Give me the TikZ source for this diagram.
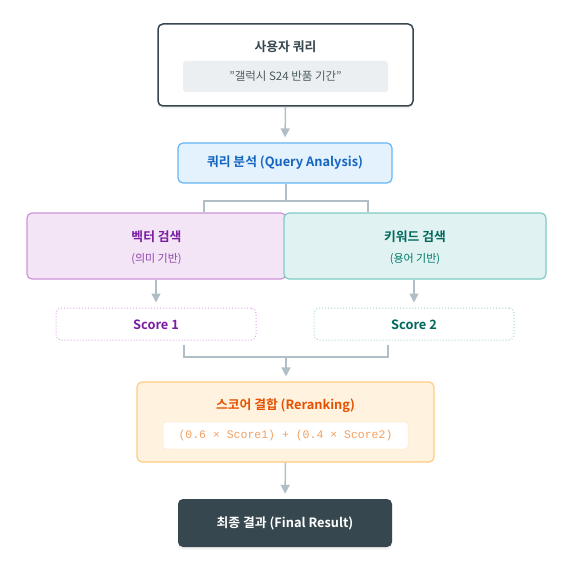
\documentclass[tikz,border=0pt]{standalone}
\usepackage{fontspec}
\setmainfont{Noto Sans CJK KR}[BoldFont={Noto Sans CJK KR Bold}]
\newfontfamily\formulafont{Liberation Mono}
\usetikzlibrary{arrows.meta,shadows}
\definecolor{slate}{HTML}{37474F}
\definecolor{connc}{HTML}{B0BEC5}
\definecolor{greyfill}{HTML}{ECEFF1}
\definecolor{qfill}{HTML}{E3F2FD}
\definecolor{qborder}{HTML}{64B5F6}
\definecolor{qtext}{HTML}{1565C0}
\definecolor{vfill}{HTML}{F3E5F5}
\definecolor{vborder}{HTML}{CE93D8}
\definecolor{vtext}{HTML}{7B1FA2}
\definecolor{vsub}{HTML}{8E44AD}
\definecolor{vdash}{HTML}{DDA8E6}
\definecolor{kfill}{HTML}{E0F2F1}
\definecolor{kborder}{HTML}{80CBC4}
\definecolor{ktext}{HTML}{00695C}
\definecolor{ksub}{HTML}{00796B}
\definecolor{kdash}{HTML}{A3D8D2}
\definecolor{rfill}{HTML}{FFF3E0}
\definecolor{rborder}{HTML}{FFCC80}
\definecolor{rtext}{HTML}{E65100}
\definecolor{rinner}{HTML}{FFE8CC}
\definecolor{ftext}{HTML}{F2A061}
\tikzset{
  box/.style={rectangle, rounded corners=5pt, inner sep=0pt},
  softshadow/.style={drop shadow={opacity=0.12, shadow xshift=0pt, shadow yshift=-2.5pt}},
  conn/.style={draw=connc, line width=1.5pt},
  arr/.style={conn, -{Triangle[length=9pt,width=9pt]}, shorten >=5pt},
  title/.style={font=\bfseries\fontsize{12.8}{15}\selectfont},
  sub/.style={font=\fontsize{11}{13}\selectfont},
}
\begin{document}
\begin{tikzpicture}[x=1pt,y=-1pt]
\useasboundingbox (0,0) rectangle (568,572);
% user query
\node[box, draw=slate, line width=1.5pt, fill=white, softshadow, minimum width=255pt, minimum height=82pt] (user) at (285.5,65) {};
\node[title, text=slate] (usert) at (285.5,47) {사용자 쿼리};
\node[box, rounded corners=3pt, fill=greyfill, minimum width=205pt, minimum height=31pt] (userq) at (285.5,76.5) {};
\node[font=\fontsize{11.5}{14}\selectfont, text=slate!90] (userqt) at (285.5,76.5) {\symbol{34}갤럭시 S24 반품 기간\symbol{34}};
% query analysis
\node[box, draw=qborder, line width=1.2pt, fill=qfill, minimum width=214pt, minimum height=40pt] (qa) at (285,163) {};
\node[title, text=qtext] (qat) at (285,163) {쿼리 분석 (Query Analysis)};
% vector
\node[box, draw=vborder, line width=1.2pt, fill=vfill, minimum width=259pt, minimum height=66pt] (vec) at (156.5,246) {};
\node[title, text=vtext] (vect) at (156.5,237) {벡터 검색};
\node[sub, text=vsub] (vecs) at (156.5,259) {(의미 기반)};
% keyword
\node[box, draw=kborder, line width=1.2pt, fill=kfill, minimum width=262pt, minimum height=66pt] (kw) at (415,246) {};
\node[title, text=ktext] (kwt) at (415,237) {키워드 검색};
\node[sub, text=ksub] (kws) at (415,259) {(용어 기반)};
% scores
\node[box, draw=vdash, dotted, line width=1pt, fill=white, minimum width=200pt, minimum height=32pt] (s1) at (156,324) {};
\node[title, text=vtext] (s1t) at (156,324.5) {Score 1};
\node[box, draw=kdash, dotted, line width=1pt, fill=white, minimum width=200pt, minimum height=32pt] (s2) at (414,324) {};
\node[title, text=ktext] (s2t) at (414,324.5) {Score 2};
% rerank
\node[box, draw=rborder, line width=1.2pt, fill=rfill, minimum width=297pt, minimum height=80pt] (rr) at (285.5,422) {};
\node[title, text=rtext] (rrt) at (285.5,406) {스코어 결합 (Reranking)};
\node[box, rounded corners=3pt, draw=rinner, line width=0.5pt, fill=white, minimum width=245pt, minimum height=27pt] (rri) at (285.5,435.5) {};
\node[font=\formulafont\fontsize{11.5}{14}\selectfont, text=ftext] (rrf) at (285.5,435.5) {(0.6 × Score1) + (0.4 × Score2)};
% final
\node[box, fill=slate, softshadow, minimum width=214pt, minimum height=48pt] (fin) at (285,523) {};
\node[title, text=white] (fint) at (285,523) {최종 결과 (Final Result)};
% connectors
\coordinate (split) at (286,201);
\coordinate (splitL) at (204,201);
\coordinate (splitR) at (368,201);
\draw[arr] (user.south) -- (qa.north);
\draw[conn] (qa.south -| split) -- (split);
\draw[conn] (splitL |- vec.north) -- (splitL) -- (splitR) -- (splitR |- kw.north);
\draw[arr] (vec.south -| s1.north) -- (s1.north);
\draw[arr] (kw.south -| s2.north) -- (s2.north);
\coordinate (mergeL) at (184,357);
\coordinate (mergeR) at (388,357);
\coordinate (merge) at (286,357);
\draw[conn] ([yshift=-4pt]mergeL |- s1.south) -- (mergeL) -- (mergeR) -- ([yshift=-4pt]mergeR |- s2.south);
\draw[arr] (merge) -- (merge |- rr.north);
\draw[arr] (rr.south) -- (fin.north);
\end{tikzpicture}
\end{document}
